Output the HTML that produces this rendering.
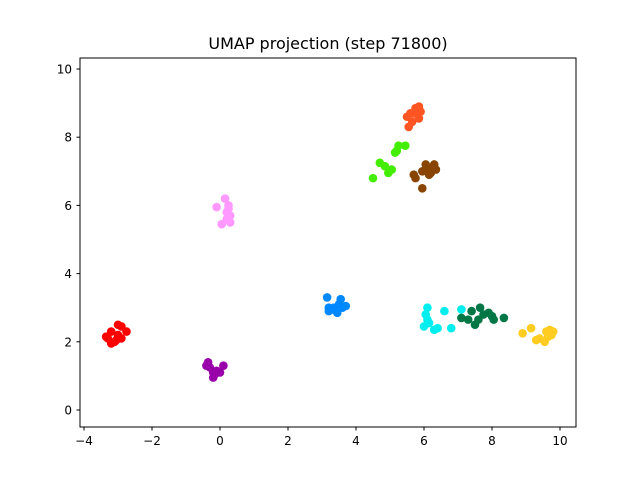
<!DOCTYPE html>
<html><head><meta charset="utf-8"><style>body{margin:0;background:#fff}svg{display:block;font-family:"DejaVu Sans","Liberation Sans",sans-serif}</style></head>
<body>
<svg id="chart" width="640" height="480">
<rect width="640" height="480" fill="#fff"/>
<text x="328" y="49" text-anchor="middle" font-size="16">UMAP projection (step 71800)</text>
<g id="points"></g>
<rect x="80" y="58" width="496" height="369" fill="none" stroke="#000" stroke-width="1"/>
<g id="axes"></g>
</svg>
<script>
const xTicks=[-4,-2,0,2,4,6,8,10];
const yTicks=[0,2,4,6,8,10];
const clusterColors=["#ff0000","#9900aa","#ff99ff","#0088ff","#ff5522","#44ee00","#884400","#00eeee","#007744","#ffcc22"];
const clusterX=[
[-3.3,-3.2,-3.0,-2.9,-2.75,-3.1,-3.2,-2.9,-3.0,-3.35,-3.05],
[-0.4,-0.35,-0.2,-0.2,-0.1,0.0,0.1,-0.3,-0.15],
[0.15,-0.1,0.25,0.3,0.2,0.3,0.05,0.2,0.25],
[3.15,3.2,3.35,3.5,3.55,3.7,3.45,3.3,3.6,3.2],
[5.6,5.75,5.85,5.65,5.55,5.9,5.7,5.85,5.5,5.8],
[4.5,4.7,4.85,5.05,4.95,5.15,5.25,5.45,5.2],
[5.95,5.75,5.7,6.05,6.1,6.2,6.3,6.25,5.95,6.35,6.15],
[6.1,6.05,6.0,6.15,6.3,6.4,6.6,6.8,7.1,6.1],
[7.1,7.3,7.4,7.5,7.6,7.65,7.9,8.0,8.35,7.75,8.05],
[8.9,9.15,9.3,9.55,9.6,9.7,9.8,9.65,9.4,9.75]];
const clusterY=[
[2.1,2.3,2.5,2.45,2.3,2.0,1.95,2.1,2.2,2.15,2.05],
[1.3,1.4,1.1,0.95,1.15,1.1,1.3,1.25,1.05],
[6.2,5.95,5.9,5.7,5.6,5.5,5.45,5.8,6.0],
[3.3,2.9,3.0,3.1,3.25,3.05,2.85,2.95,3.0,3.0],
[8.7,8.85,8.9,8.45,8.3,8.75,8.7,8.55,8.6,8.8],
[6.8,7.25,7.15,7.05,6.95,7.55,7.75,7.75,7.6],
[6.5,6.8,6.9,7.2,7.0,6.95,7.2,7.1,7.0,7.05,6.9],
[3.0,2.8,2.45,2.55,2.35,2.4,2.9,2.4,2.95,2.65],
[2.7,2.65,2.9,2.5,2.65,3.0,2.85,2.75,2.7,2.8,2.65],
[2.25,2.4,2.05,2.0,2.3,2.35,2.3,2.15,2.1,2.2]];
const NS="http://www.w3.org/2000/svg";
const sx=v=>220+34*v, sy=v=>410-34.1*v;
const pts=document.getElementById('points'), axes=document.getElementById('axes');
clusterX.forEach((xs,c)=>xs.forEach((x,i)=>{
 const e=document.createElementNS(NS,'circle');
 e.setAttribute('cx',sx(x));e.setAttribute('cy',sy(clusterY[c][i]));e.setAttribute('r',4.3);e.setAttribute('fill',clusterColors[c]);
 
 
 pts.appendChild(e);}));
xTicks.forEach(t=>{
 const l=document.createElementNS(NS,'line');l.setAttribute('x1',sx(t));l.setAttribute('x2',sx(t));l.setAttribute('y1',427);l.setAttribute('y2',430.5);l.setAttribute('stroke','#000');
 
 
 axes.appendChild(l);
 const s=document.createElementNS(NS,'text');s.setAttribute('x',sx(t));s.setAttribute('y',445);s.setAttribute('text-anchor','middle');s.setAttribute('font-size','12');s.textContent=t<0?'\u2212'+(-t):t;
 
 
 axes.appendChild(s);});
yTicks.forEach(t=>{
 const l=document.createElementNS(NS,'line');l.setAttribute('x1',76.5);l.setAttribute('x2',80);l.setAttribute('y1',sy(t));l.setAttribute('y2',sy(t));l.setAttribute('stroke','#000');
 
 
 axes.appendChild(l);
 const s=document.createElementNS(NS,'text');s.setAttribute('x',72);s.setAttribute('y',sy(t)+4.5);s.setAttribute('text-anchor','end');s.setAttribute('font-size','12');s.textContent=t;
 
 
 axes.appendChild(s);});
</script>
</body></html>
